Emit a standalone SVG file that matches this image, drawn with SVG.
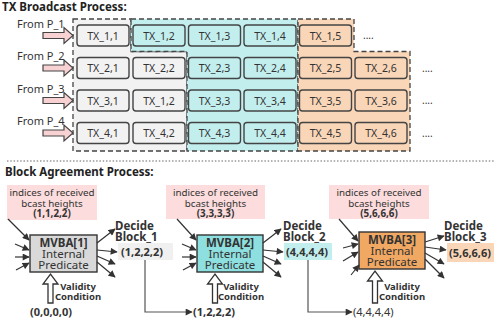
<svg xmlns="http://www.w3.org/2000/svg" width="496" height="318" viewBox="0 0 496 318">
<style>
text{font-family:"Noto Sans","Open Sans","DejaVu Sans",sans-serif;fill:#333}
.title{font-size:11.5px;font-weight:bold;fill:#222}
.tx{font-size:10.5px;text-anchor:middle}
.from{font-size:11px}
.box{stroke:#444;stroke-width:1.4}
.g{fill:#f2f2f2}.c{fill:#c3eeee}.o{fill:#f9d6b7}
.region{stroke:#444;stroke-width:1.3;stroke-dasharray:5,3}
.barrow{fill:#f8d2d2;stroke:#444;stroke-width:1.2}
.pink{fill:#fcdcdc}
.pt{font-size:9.8px;text-anchor:middle}
.b{font-weight:bold}
.mv{stroke:#333;stroke-width:1.4}
.mvt{font-size:11.5px;text-anchor:middle}
.dec{font-size:11.5px;font-weight:bold}
.val{font-size:9.5px;font-weight:bold;text-anchor:middle}
.vec{font-size:11px;font-weight:bold}
.vecr{font-size:11px}
.ln{stroke:#333;stroke-width:1.2;fill:none;marker-end:url(#ah)}
.cn{stroke:#555;stroke-width:1.2;fill:none;marker-end:url(#ah)}
.hollow{fill:#fff;stroke:#333;stroke-width:1.3}
.dots{font-size:10px;fill:#333}
</style>
<defs>
<marker id="ah" viewBox="0 0 10 10" refX="9" refY="5" markerWidth="8" markerHeight="7" markerUnits="userSpaceOnUse" orient="auto"><path d="M0,0 L10,5 L0,10 z" fill="#333"/></marker>
</defs>
<rect width="496" height="318" fill="#fff"/>

<text class="title" x="2" y="11">TX Broadcast Process:</text>

<g id="regions">
<path class="region g" d="M73,19 H131 V51.5 H187 V151 H73 Z"/>
<path class="region c" d="M131,19 H298 V151 H187 V51.5 H131 Z"/>
<path class="region o" d="M298,19 H354 V51.5 H410 V151 H298 Z"/>
</g>

<g id="sources">
<g id="from1"><text class="from" x="17" y="27.5">From P_1</text><path class="barrow" d="M43,32.5 H64 V27.5 L73,35.5 L64,43.5 V38.5 H43 Z"/></g>
<g id="from2"><text class="from" x="17" y="60">From P_2</text><path class="barrow" d="M43,65 H64 V60 L73,68 L64,76 V71 H43 Z"/></g>
<g id="from3"><text class="from" x="17" y="92.5">From P_3</text><path class="barrow" d="M43,97.5 H64 V92.5 L73,100.5 L64,108.5 V103.5 H43 Z"/></g>
<g id="from4"><text class="from" x="17" y="125">From P_4</text><path class="barrow" d="M43,130 H64 V125 L73,133 L64,141 V136 H43 Z"/></g>
</g>

<g id="tx-row1">
<g id="tx11"><rect class="box g" x="77" y="25" width="52" height="21" rx="3"/><text class="tx" x="103" y="39.5">TX_1,1</text></g>
<g id="tx12"><rect class="box c" x="133" y="25" width="52" height="21" rx="3"/><text class="tx" x="159" y="39.5">TX_1,2</text></g>
<g id="tx13"><rect class="box c" x="188.5" y="25" width="52" height="21" rx="3"/><text class="tx" x="214.5" y="39.5">TX_1,3</text></g>
<g id="tx14"><rect class="box c" x="244" y="25" width="52" height="21" rx="3"/><text class="tx" x="270" y="39.5">TX_1,4</text></g>
<g id="tx15"><rect class="box o" x="299.5" y="25" width="52" height="21" rx="3"/><text class="tx" x="325.5" y="39.5">TX_1,5</text></g>
<text class="dots" x="363" y="39">....</text>
</g>
<g id="tx-row2">
<g id="tx21"><rect class="box g" x="77" y="57.5" width="52" height="21" rx="3"/><text class="tx" x="103" y="72">TX_2,1</text></g>
<g id="tx22"><rect class="box g" x="133" y="57.5" width="52" height="21" rx="3"/><text class="tx" x="159" y="72">TX_2,2</text></g>
<g id="tx23"><rect class="box c" x="188.5" y="57.5" width="52" height="21" rx="3"/><text class="tx" x="214.5" y="72">TX_2,3</text></g>
<g id="tx24"><rect class="box c" x="244" y="57.5" width="52" height="21" rx="3"/><text class="tx" x="270" y="72">TX_2,4</text></g>
<g id="tx25"><rect class="box o" x="299.5" y="57.5" width="52" height="21" rx="3"/><text class="tx" x="325.5" y="72">TX_2,5</text></g>
<g id="tx26"><rect class="box o" x="355" y="57.5" width="52" height="21" rx="3"/><text class="tx" x="381" y="72">TX_2,6</text></g>
<text class="dots" x="422" y="71.5">....</text>
</g>
<g id="tx-row3">
<g id="tx31"><rect class="box g" x="77" y="90" width="52" height="21" rx="3"/><text class="tx" x="103" y="104.5">TX_3,1</text></g>
<g id="tx32"><rect class="box g" x="133" y="90" width="52" height="21" rx="3"/><text class="tx" x="159" y="104.5">TX_1,2</text></g>
<g id="tx33"><rect class="box c" x="188.5" y="90" width="52" height="21" rx="3"/><text class="tx" x="214.5" y="104.5">TX_3,3</text></g>
<g id="tx34"><rect class="box c" x="244" y="90" width="52" height="21" rx="3"/><text class="tx" x="270" y="104.5">TX_3,4</text></g>
<g id="tx35"><rect class="box o" x="299.5" y="90" width="52" height="21" rx="3"/><text class="tx" x="325.5" y="104.5">TX_3,5</text></g>
<g id="tx36"><rect class="box o" x="355" y="90" width="52" height="21" rx="3"/><text class="tx" x="381" y="104.5">TX_3,6</text></g>
<text class="dots" x="422" y="104">....</text>
</g>
<g id="tx-row4">
<g id="tx41"><rect class="box g" x="77" y="122.5" width="52" height="21" rx="3"/><text class="tx" x="103" y="137">TX_4,1</text></g>
<g id="tx42"><rect class="box g" x="133" y="122.5" width="52" height="21" rx="3"/><text class="tx" x="159" y="137">TX_4,2</text></g>
<g id="tx43"><rect class="box c" x="188.5" y="122.5" width="52" height="21" rx="3"/><text class="tx" x="214.5" y="137">TX_4,3</text></g>
<g id="tx44"><rect class="box c" x="244" y="122.5" width="52" height="21" rx="3"/><text class="tx" x="270" y="137">TX_4,4</text></g>
<g id="tx45"><rect class="box o" x="299.5" y="122.5" width="52" height="21" rx="3"/><text class="tx" x="325.5" y="137">TX_4,5</text></g>
<g id="tx46"><rect class="box o" x="355" y="122.5" width="52" height="21" rx="3"/><text class="tx" x="381" y="137">TX_4,6</text></g>
<text class="dots" x="422" y="136.5">....</text>
</g>

<line x1="7" y1="161" x2="494" y2="161" stroke="#666" stroke-width="1.2" stroke-dasharray="1.5,1.8"/>
<text class="title" x="5" y="176">Block Agreement Process:</text>

<g id="heights1"><rect class="pink" x="7" y="185" width="90" height="35"/><text class="pt"><tspan x="52" y="196">indices of received</tspan><tspan x="52" y="206.5">bcast heights</tspan><tspan class="b" x="52" y="217">(1,1,2,2)</tspan></text></g>
<g id="heights2"><rect class="pink" x="166" y="185" width="99" height="34"/><text class="pt"><tspan x="215.5" y="196">indices of received</tspan><tspan x="215.5" y="206.5">bcast heights</tspan><tspan class="b" x="215.5" y="217">(3,3,3,3)</tspan></text></g>
<g id="heights3"><rect class="pink" x="329" y="185" width="100" height="34"/><text class="pt"><tspan x="379" y="196">indices of received</tspan><tspan x="379" y="206.5">bcast heights</tspan><tspan class="b" x="379" y="217">(5,6,6,6)</tspan></text></g>

<g id="mvba1"><rect class="mv" x="30" y="235" width="67" height="37" fill="#d9d9d9"/><text class="mvt"><tspan class="b" x="63.5" y="247">MVBA[1]</tspan><tspan x="63.5" y="258">Internal</tspan><tspan x="63.5" y="269">Predicate</tspan></text></g>
<g id="mvba2"><rect class="mv" x="197" y="235" width="66" height="37" fill="#8edfdf"/><text class="mvt"><tspan class="b" x="230" y="247">MVBA[2]</tspan><tspan x="230" y="258">Internal</tspan><tspan x="230" y="269">Predicate</tspan></text></g>
<g id="mvba3"><rect class="mv" x="359" y="232" width="66" height="37" fill="#f0a862"/><text class="mvt"><tspan class="b" x="392" y="244">MVBA[3]</tspan><tspan x="392" y="255">Internal</tspan><tspan x="392" y="266">Predicate</tspan></text></g>

<g id="decide1"><text class="dec"><tspan x="115" y="230">Decide</tspan><tspan x="115" y="241">Block_1</tspan></text><rect x="118" y="243" width="55" height="17" fill="#f0f0f0"/><text class="vec" x="121" y="256">(1,2,2,2)</text></g>
<g id="decide2"><text class="dec"><tspan x="283" y="230">Decide</tspan><tspan x="283" y="241">Block_2</tspan></text><rect x="284" y="243" width="48" height="17" fill="#c3eeee"/><text class="vec" x="286" y="256">(4,4,4,4)</text></g>
<g id="decide3"><text class="dec"><tspan x="444" y="230">Decide</tspan><tspan x="444" y="241">Block_3</tspan></text><rect x="447" y="243" width="47" height="19" fill="#f9d6b7"/><text class="vec" x="449" y="257">(5,6,6,6)</text></g>

<g id="validity1"><path class="hollow" d="M48,303 V284 H43 L50.5,274 L58,284 H53 V303 Z"/><text class="val"><tspan x="78" y="290">Validity</tspan><tspan x="78" y="300">Condition</tspan></text><text class="vec" x="30" y="316">(0,0,0,0)</text></g>
<g id="validity2"><path class="hollow" d="M212.5,303 V284 H207.5 L215,274 L222.5,284 H217.5 V303 Z"/><text class="val"><tspan x="241" y="290">Validity</tspan><tspan x="241" y="300">Condition</tspan></text><text class="vec" x="193" y="316">(1,2,2,2)</text></g>
<g id="validity3"><path class="hollow" d="M372.5,303 V281 H367.5 L375,271 L382.5,281 H377.5 V303 Z"/><text class="val"><tspan x="402" y="290">Validity</tspan><tspan x="402" y="300">Condition</tspan></text><text class="vecr" x="353" y="316">(4,4,4,4)</text></g>

<g id="connectors">
<line class="ln" x1="8" y1="219" x2="29" y2="240"/>
<line class="ln" x1="15" y1="244" x2="29" y2="250"/>
<line class="ln" x1="15" y1="257" x2="29" y2="257"/>
<line class="ln" x1="16" y1="270" x2="29" y2="263"/>
<line class="ln" x1="97" y1="243" x2="115" y2="229"/>
<line class="ln" x1="97" y1="250" x2="117" y2="252"/>
<line class="ln" x1="97" y1="256" x2="115" y2="264"/>
<line class="ln" x1="97" y1="262" x2="115" y2="277"/>

<line class="ln" x1="177" y1="219" x2="196" y2="240"/>
<line class="ln" x1="182" y1="244" x2="196" y2="250"/>
<line class="ln" x1="182" y1="257" x2="196" y2="257"/>
<line class="ln" x1="183" y1="270" x2="196" y2="263"/>
<line class="ln" x1="263" y1="243" x2="281" y2="229"/>
<line class="ln" x1="263" y1="250" x2="283" y2="252"/>
<line class="ln" x1="263" y1="256" x2="281" y2="264"/>
<line class="ln" x1="263" y1="262" x2="281" y2="277"/>

<line class="ln" x1="339" y1="219" x2="358" y2="241"/>
<line class="ln" x1="343" y1="248" x2="358" y2="244"/>
<line class="ln" x1="343" y1="261" x2="358" y2="252"/>
<line class="ln" x1="351" y1="275" x2="359" y2="265"/>
<line class="ln" x1="425" y1="242" x2="444" y2="236"/>
<line class="ln" x1="425" y1="247" x2="446" y2="250"/>
<line class="ln" x1="425" y1="253" x2="444" y2="264"/>
<line class="ln" x1="425" y1="259" x2="444" y2="278"/>

<path class="cn" d="M145,260 V312 H192"/>
<path class="cn" d="M308,260 V312 H352"/>
</g>
</svg>
